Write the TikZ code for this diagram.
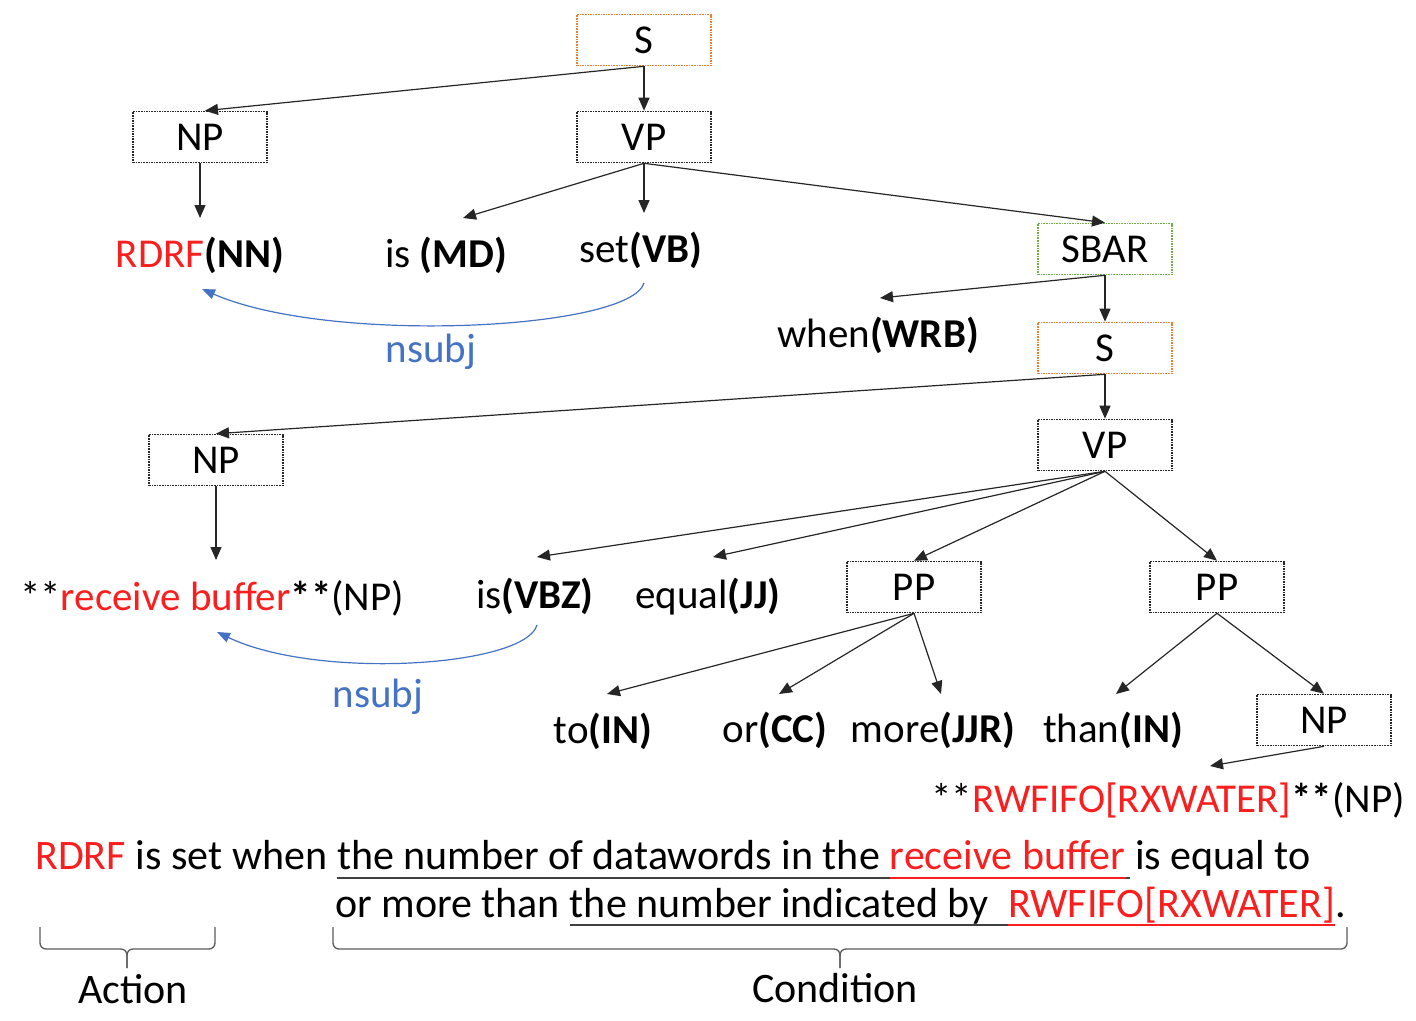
\documentclass[tikz,border=0pt]{standalone}
\usepackage{fontspec}
\setmainfont{Carlito}
\usetikzlibrary{arrows.meta}
\definecolor{myred}{RGB}{250,30,30}
\definecolor{myblue}{RGB}{68,114,196}
\definecolor{myorange}{RGB}{237,125,49}
\definecolor{mygreen}{RGB}{112,173,71}
\definecolor{bracegray}{RGB}{90,90,90}
\begin{document}
\begin{tikzpicture}[x=1pt,y=-1pt,
  font=\fontsize{41}{48}\selectfont,
  tbox/.style={draw=black!85, densely dotted, line width=1.6pt, minimum width=134pt, minimum height=51pt, inner sep=0pt},
  obox/.style={tbox, draw=myorange},
  gbox/.style={tbox, draw=mygreen},
  word/.style={inner sep=0pt, anchor=base},
  sent/.style={inner sep=0pt, anchor=base west, font=\fontsize{42}{48}\selectfont},
  arr/.style={-{Triangle[length=13pt,width=11pt]}, line width=1.2pt, black!85},
  dep/.style={-{Triangle[length=13pt,width=10pt]}, line width=1.2pt, myblue},
  ul/.style={line width=2pt, black!75},
  ulr/.style={line width=2pt, myred},
  brace/.style={line width=1.3pt, bracegray, rounded corners=6pt}
]
\useasboundingbox (0,0) rectangle (1416,1020);

% tree boxes
\node[obox] (s1) at (644,40) {S};
\node[tbox] (np1) at (200,137) {NP};
\node[tbox] (vp1) at (644,137) {VP};
\node[gbox] (sbar) at (1105,249) {SBAR};
\node[obox] (s2) at (1105,348) {S};
\node[tbox] (np2) at (216,460) {NP};
\node[tbox] (vp2) at (1105,445) {VP};
\node[tbox] (pp1) at (914,587) {PP};
\node[tbox] (pp2) at (1217,587) {PP};
\node[tbox] (np3) at (1324,720) {NP};

% words
\node[word] (rdrf) at (200,267) {\textcolor{myred}{RDRF}\textbf{(NN)}};
\node[word] (ismd) at (446,267) {is \textbf{(MD)}};
\node[word] (setvb) at (641,262) {set\textbf{(VB)}};
\node[word] (when) at (878,347) {when\textbf{(WRB)}};
\node[word] (recv) at (212,610) {**\textcolor{myred}{receive buffer}\textbf{**}(NP)};
\node[word] (isvbz) at (535,608) {is\textbf{(VBZ)}};
\node[word] (equal) at (708,608) {equal\textbf{(JJ)}};
\node[word] (to) at (603,743) {to\textbf{(IN)}};
\node[word] (or) at (775,742) {or\textbf{(CC)}};
\node[word] (more) at (933,742) {more\textbf{(JJR)}};
\node[word] (than) at (1113,742) {than\textbf{(IN)}};
\node[word] (rwf) at (1168,812) {**\textcolor{myred}{RWFIFO[RXWATER]}\textbf{**}(NP)};

% dependency labels
\node[word, text=myblue] (ns1) at (431,362) {nsubj};
\node[word, text=myblue] (ns2) at (378,707) {nsubj};

% tree arrows
\draw[arr] (s1.south) -- ([xshift=5pt]np1.north);
\draw[arr] (s1.south) -- (vp1.north);
\draw[arr] (np1.south) -- ([yshift=49pt]rdrf.base);
\draw[arr] (vp1.south) -- ([xshift=17pt,yshift=49pt]ismd.base);
\draw[arr] (vp1.south) -- ([xshift=3pt,yshift=49pt]setvb.base);
\draw[arr] (vp1.south) -- (sbar.north);
\draw[arr] (sbar.south) -- ([xshift=2pt,yshift=49pt]when.base);
\draw[arr] (sbar.south) -- (s2.north);
\draw[arr] (s2.south) -- (np2.north);
\draw[arr] (s2.south) -- (vp2.north);
\draw[arr] (np2.south) -- ([xshift=4pt,yshift=50pt]recv.base);
\draw[arr] (vp2.south) -- ([xshift=2pt,yshift=51pt]isvbz.base);
\draw[arr] (vp2.south) -- ([xshift=5pt,yshift=51pt]equal.base);
\draw[arr] (vp2.south) -- (pp1.north);
\draw[arr] (vp2.south) -- (pp2.north);
\draw[arr] (pp1.south) -- ([xshift=4pt,yshift=49pt]to.base);
\draw[arr] (pp1.south) -- ([xshift=4pt,yshift=48pt]or.base);
\draw[arr] (pp1.south) -- ([xshift=8pt,yshift=48pt]more.base);
\draw[arr] (pp2.south) -- ([xshift=3pt,yshift=48pt]than.base);
\draw[arr] (pp2.south) -- (np3.north);
\draw[arr] (np3.south) -- ([xshift=42pt,yshift=46pt]rwf.base);

% dependency arcs
\draw[dep] ([xshift=3pt,yshift=-21pt]setvb.base) .. controls +(-14,47) and +(128,56) .. ([xshift=2pt,yshift=-22pt]rdrf.base);
\draw[dep] ([xshift=2pt,yshift=-17pt]isvbz.base) .. controls +(-12,42) and +(100,48) .. ([xshift=5pt,yshift=-22pt]recv.base);

% sentence line 1
\node[sent, text=myred] (l1a) at (35,869) {RDRF};
\node[sent] (l1b) at (l1a.base east) {\ is set when\ \null};
\node[sent] (l1c) at (l1b.base east) {the number of datawords in the\ \null};
\node[sent, text=myred] (l1d) at (l1c.base east) {receive buffer};
\node[sent] (l1e) at (l1d.base east) {\ is equal to};
% sentence line 2
\node[sent] (l2a) at (335,917) {or more than\ \null};
\node[sent] (l2b) at (l2a.base east) {the number indicated by\ \ \null};
\node[sent, text=myred] (l2c) at (l2b.base east) {RWFIFO[RXWATER]};
\node[sent] (l2d) at (l2c.base east) {.};

% underlines
\draw[ul] ([yshift=-9pt]l1c.base west) -- ([yshift=-9pt]l1d.base west);
\draw[ulr] ([yshift=-9pt]l1d.base west) -- ([yshift=-9pt]l1d.base east);
\draw[ul] ([yshift=-9pt]l1d.base east) -- ([xshift=4pt,yshift=-9pt]l1d.base east);
\draw[ul] ([yshift=-8pt]l2b.base west) -- ([yshift=-8pt]l2c.base west);
\draw[ulr] ([yshift=-8pt]l2c.base west) -- ([yshift=-8pt]l2c.base east);

% braces
\coordinate (actL) at (40,927);
\coordinate (actR) at (215,927);
\coordinate (actT) at (127,968);
\draw[brace] (actL) -- (40,949) -- (127,949) -- (actT);
\draw[brace] (actR) -- (215,949) -- (127,949) -- (actT);
\coordinate (conL) at (333,927);
\coordinate (conR) at (1347,927);
\coordinate (conT) at (840,968);
\draw[brace] (conL) -- (333,949) -- (840,949) -- (conT);
\draw[brace] (conR) -- (1347,949) -- (840,949) -- (conT);

\node[word, font=\fontsize{42}{48}\selectfont] (act) at (133,1003) {Action};
\node[word, font=\fontsize{42}{48}\selectfont] (cond) at (835,1002) {Condition};
\end{tikzpicture}
\end{document}
